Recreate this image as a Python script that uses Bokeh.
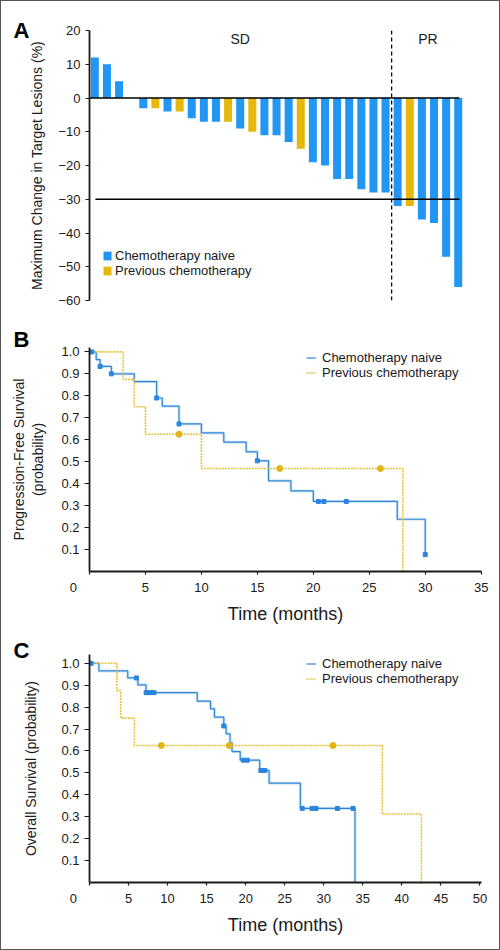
from bokeh.plotting import figure
from bokeh.models import (ColumnDataSource, FixedTicker, Legend, LegendItem, Label, Span,
                          NumeralTickFormatter, Title)
from bokeh.layouts import column
from bokeh.embed import file_html
from bokeh.resources import INLINE

# ---------------- Panel A: waterfall ----------------
change_pct = [12, 10, 5, 0, -3, -3, -4, -4, -6, -7, -7, -7, -9, -10, -11, -11, -13, -15,
              -19, -20, -24, -24, -27, -28, -28, -32, -32, -36, -37, -47, -56]
prior_chemo = ["naive", "naive", "naive", "naive", "naive", "previous", "naive", "previous",
               "naive", "naive", "naive", "previous", "naive", "previous", "naive", "naive",
               "naive", "previous", "naive", "naive", "naive", "naive", "naive", "naive",
               "naive", "naive", "previous", "naive", "naive", "naive", "naive"]
response = ["SD"] * 25 + ["PR"] * 6
reference_levels = [0, -30]
a_yticks = [20, 10, 0, -10, -20, -30, -40, -50, -60]
group_names = ["naive", "previous"]
group_labels = ["Chemotherapy naive", "Previous chemotherapy"]

# ---------------- Panel B: progression-free survival ----------------
pfs_naive_t = [0.6, 0.95, 1.95, 4.0, 6.0, 6.5, 8.0, 10.0, 12.0, 14.0, 15.0, 16.0, 18.0, 20.0, 27.5, 30.0]
pfs_naive_s = [0.965, 0.934, 0.900, 0.865, 0.790, 0.753, 0.672, 0.631, 0.589, 0.545, 0.504,
               0.413, 0.367, 0.319, 0.238, 0.077]
pfs_naive_cens_t = [0.2, 0.95, 1.95, 6.0, 8.0, 15.0, 20.45, 20.95, 22.95, 30.0]
pfs_naive_cens_s = [1.0, 0.934, 0.900, 0.790, 0.672, 0.504, 0.319, 0.319, 0.319, 0.077]
pfs_prev_t = [3.0, 4.0, 5.0, 10.0, 28.0]
pfs_prev_s = [0.875, 0.75, 0.625, 0.469, 0.0]
pfs_prev_cens_t = [8.0, 17.0, 26.0]
pfs_prev_cens_s = [0.625, 0.469, 0.469]
pfs_xticks = [0, 5, 10, 15, 20, 25, 30, 35]

# ---------------- Panel C: overall survival ----------------
os_naive_t = [1.2, 4.9, 6.2, 7.25, 13.8, 15.5, 16.0, 17.2, 17.5, 18.0, 18.25, 19.3, 21.8, 23.0, 27.0, 34.0]
os_naive_s = [0.965, 0.933, 0.901, 0.866, 0.827, 0.792, 0.754, 0.714, 0.678, 0.637, 0.597,
              0.558, 0.511, 0.453, 0.338, 0.0]
os_naive_cens_t = [0.2, 6.0, 7.25, 7.75, 8.25, 17.2, 19.7, 20.2, 21.95, 22.45, 27.25, 28.5, 29.0, 31.75, 33.75]
os_naive_cens_s = [1.0, 0.933, 0.866, 0.866, 0.866, 0.714, 0.558, 0.558, 0.511, 0.511,
                   0.338, 0.338, 0.338, 0.338, 0.338]
os_prev_t = [3.5, 4.0, 5.75, 37.5, 42.5]
os_prev_s = [0.875, 0.75, 0.625, 0.3125, 0.0]
os_prev_cens_t = [9.2, 17.9, 31.2]
os_prev_cens_s = [0.625, 0.625, 0.625]
os_xticks = [0, 5, 10, 15, 20, 25, 30, 35, 40, 45, 50]

surv_yticks = [0.1, 0.2, 0.3, 0.4, 0.5, 0.6, 0.7, 0.8, 0.9, 1.0]

# ---------------- styling ----------------
FONT = "Liberation Sans"
TXT = "#1a1a1a"
BLUE_BAR = "#2196F3"
GOLD_BAR = "#E6B80C"
BLUE_LINE = "#2f86d6"
BLUE_HALO = "#b3d6f5"
GOLD_LINE = "#e8c23a"
BLUE_MARK = "#2a85dc"
GOLD_MARK = "#e2b414"
W = 498
LEFT = 88
RIGHT = 18
NBSP = "\u00a0"


def style_axis(ax, tick_out=4):
    ax.major_label_text_font = FONT
    ax.major_label_text_font_size = "13px"
    ax.major_label_text_color = TXT
    ax.axis_label_text_font = FONT
    ax.axis_label_text_font_size = "14px"
    ax.axis_label_text_font_style = "normal"
    ax.axis_label_text_color = TXT
    ax.axis_line_color = TXT
    ax.axis_line_width = 1.8
    ax.major_tick_line_color = TXT
    ax.major_tick_line_width = 1.2
    ax.major_tick_out = tick_out
    ax.major_tick_in = 0
    ax.minor_tick_line_color = None
    ax.major_label_standoff = 5


def letter_title(text, standoff):
    t = Title(text=text, align="left", offset=-76, text_font=FONT,
              text_font_size="22px", text_font_style="bold", text_color="black",
              vertical_align="middle")
    if "standoff" in Title.properties():
        t.standoff = standoff
    return t


def base_fig(height, xr, yr, top, bottom, letter, standoff, **kw):
    p = figure(width=W, height=height, x_range=xr, y_range=yr, output_backend="svg",
               toolbar_location=None, min_border_left=LEFT,
               min_border_right=RIGHT, min_border_top=top, min_border_bottom=bottom, **kw)
    p.title = letter_title(letter, standoff)
    p.outline_line_color = None
    p.grid.visible = False
    p.background_fill_color = "white"
    p.border_fill_color = "white"
    return p


# ---------------- Figure A ----------------
n = len(change_pct)
xs = list(range(n))
pa = base_fig(317, (-0.44, n - 1 + 1.92), (-60, 20), 29, 18, "A", -26,
              x_axis_location=None)

bar_rs = []
for grp, col in zip(group_names, [BLUE_BAR, GOLD_BAR]):
    idx = [i for i, g in enumerate(prior_chemo) if g == grp]
    src = ColumnDataSource(dict(x=[xs[i] for i in idx], top=[change_pct[i] for i in idx]))
    bar_rs.append(pa.vbar(x="x", top="top", bottom=0, width=0.66, source=src,
                          fill_color=col, line_color=None))

line_x0 = [pa.x_range.start, 0.05]
pa.segment(x0=line_x0, y0=reference_levels, x1=[n - 1 + 0.1] * 2, y1=reference_levels,
           line_color="black", line_width=1.6)

split = response.index("PR") - 0.5
pa.add_layout(Span(location=split, dimension="height", line_color="black",
                   line_dash="4 3", line_width=1.3))

for cat in ["SD", "PR"]:
    idx = [i for i, r in enumerate(response) if r == cat]
    pa.add_layout(Label(x=sum(idx) / len(idx), y=17.6, text=cat, text_font=FONT,
                        text_font_size="14px", text_color=TXT, text_align="center",
                        text_baseline="middle"))

ya = pa.yaxis[0]
style_axis(ya, tick_out=4)
ya.ticker = FixedTicker(ticks=a_yticks)
ya.axis_label = "Maximum Change in Target Lesions (%)"
ya.axis_label_standoff = 10

leg_a = Legend(items=[LegendItem(label=group_labels[i], renderers=[bar_rs[i]]) for i in range(2)],
               location=(13, 22.5), orientation="vertical", background_fill_alpha=0,
               border_line_color=None, padding=0, margin=0, spacing=0,
               glyph_width=10, glyph_height=11, label_height=15, label_standoff=3,
               label_text_font=FONT, label_text_font_size="13px", label_text_color=TXT)
pa.add_layout(leg_a)


# ---------------- KM helper ----------------
def km_steps(times, surv, cens_t):
    x = [0.0] + list(times)
    y = [1.0] + list(surv)
    last = max(list(cens_t) + list(times))
    if last > x[-1]:
        x.append(last)
        y.append(y[-1])
    return x, y


def km_panel(p, naive, prev, xticks, legend_loc, ylabel, label_standoff):
    nt, ns, nct, ncs = naive
    pt, ps, pct, pcs = prev
    x, y = km_steps(nt, ns, nct)
    p.step(x, y, mode="after", line_color=BLUE_HALO, line_width=3.0, line_alpha=0.6)
    r_blue = p.step(x, y, mode="after", line_color=BLUE_LINE, line_width=1.2)
    x2, y2 = km_steps(pt, ps, pct)
    r_gold = p.step(x2, y2, mode="after", line_color=GOLD_LINE, line_width=1.6, line_dash="2 1")
    p.scatter(nct, ncs, marker="square", size=4, color=BLUE_MARK)
    p.scatter(pct, pcs, marker="circle", size=6, color=GOLD_MARK)

    xa = p.xaxis[0]
    style_axis(xa, tick_out=3)
    xa.ticker = FixedTicker(ticks=xticks)
    xa.major_label_overrides = {0: "0" + NBSP * 9}
    xa.axis_label = "Time (months)"
    xa.axis_label_text_font_size = "18px"
    xa.axis_label_standoff = 6

    yax = p.yaxis[0]
    style_axis(yax, tick_out=5)
    yax.ticker = FixedTicker(ticks=surv_yticks)
    yax.formatter = NumeralTickFormatter(format="0.0")
    yax.axis_label = ylabel
    yax.axis_label_standoff = label_standoff

    leg = Legend(items=[LegendItem(label=group_labels[0], renderers=[r_blue]),
                        LegendItem(label=group_labels[1], renderers=[r_gold])],
                 location=legend_loc, background_fill_alpha=0, border_line_color=None,
                 padding=0, margin=0, spacing=0, glyph_width=10, glyph_height=15,
                 label_height=15, label_standoff=6, label_text_font=FONT,
                 label_text_font_size="13px", label_text_color=TXT)
    p.add_layout(leg)


# ---------------- Figure B ----------------
pb = base_fig(310, (0, 35.03), (0, 1.02), 29, 57, "B", -11)
km_panel(pb, (pfs_naive_t, pfs_naive_s, pfs_naive_cens_t, pfs_naive_cens_s),
         (pfs_prev_t, pfs_prev_s, pfs_prev_cens_t, pfs_prev_cens_s),
         pfs_xticks, (217, 190.8), "Progression-Free Survival\n(probability)", 12)

# ---------------- Figure C ----------------
pc = base_fig(321, (0, 50.2), (0, 1.04), 26, 67, "C", -19)
km_panel(pc, (os_naive_t, os_naive_s, os_naive_cens_t, os_naive_cens_s),
         (os_prev_t, os_prev_s, os_prev_cens_t, os_prev_cens_s),
         os_xticks, (217, 196.5), "Overall Survival (probability)", 19)

layout = column(pa, pb, pc, spacing=0, styles={"border": "1px solid #555"})
open("out.html", "w").write(file_html(layout, INLINE))
